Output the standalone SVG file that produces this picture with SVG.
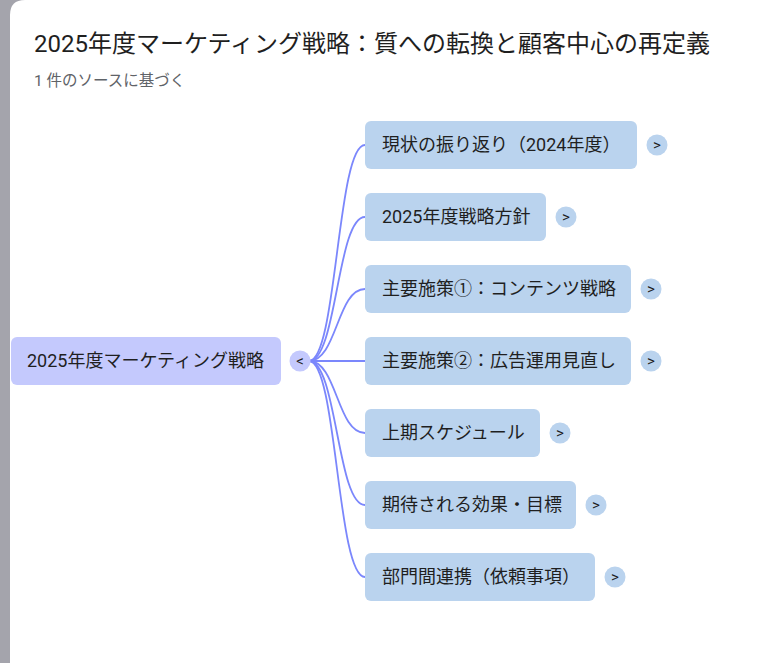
<svg xmlns="http://www.w3.org/2000/svg" width="772" height="663" viewBox="0 0 772 663">
<style>
text{font-family:Roboto,"Noto Sans CJK JP",sans-serif;fill:#1f1f1f}
.title{font-size:24px}
.sub{font-size:15.5px;fill:#5f6368}
.lbl{font-size:18px}
.root rect.box{fill:#c4c9fd}
.child rect.box{fill:#bad3ee}
.tog{fill:#bad3ee}
.root .tog{fill:#c4c9fd}
.tg{font-size:15px;text-anchor:middle}
#connectors path{fill:none;stroke:#7b87fc;stroke-width:1.8}
</style>
<rect x="0" y="0" width="772" height="663" fill="#a4a4ac"/>
<path d="M10 663 V15 Q10 0 25 0 H772 V663 Z" fill="#ffffff"/>
<text class="title" x="34" y="52">2025年度マーケティング戦略：質への転換と顧客中心の再定義</text>
<text class="sub" x="34" y="86">1 件のソースに基づく</text>
<g id="connectors">
<path d="M309 361 C337 361 337 145 365 145"/>
<path d="M309 361 C337 361 337 217 365 217"/>
<path d="M309 361 C337 361 337 289 365 289"/>
<path d="M309 361 L365 361"/>
<path d="M309 361 C337 361 337 433 365 433"/>
<path d="M309 361 C337 361 337 505 365 505"/>
<path d="M309 361 C337 361 337 577 365 577"/>
</g>
<g id="root" class="root">
<rect class="box" x="11" y="337" width="270" height="48" rx="6"/>
<text class="lbl" x="27" y="367">2025年度マーケティング戦略</text>
<circle class="tog" cx="300" cy="361" r="10.5"/>
<text class="tg" x="300" y="366">&lt;</text>
</g>
<g id="n1" class="child">
<rect class="box" x="365" y="121" width="272" height="48" rx="6"/>
<text class="lbl" x="382" y="151">現状の振り返り（2024年度）</text>
<circle class="tog" cx="657" cy="145" r="10.5"/>
<text class="tg" x="657" y="150">&gt;</text>
</g>
<g id="n2" class="child">
<rect class="box" x="365" y="193" width="181" height="48" rx="6"/>
<text class="lbl" x="382" y="223">2025年度戦略方針</text>
<circle class="tog" cx="566" cy="217" r="10.5"/>
<text class="tg" x="566" y="222">&gt;</text>
</g>
<g id="n3" class="child">
<rect class="box" x="365" y="265" width="266" height="48" rx="6"/>
<text class="lbl" x="382" y="295">主要施策①：コンテンツ戦略</text>
<circle class="tog" cx="651" cy="289" r="10.5"/>
<text class="tg" x="651" y="294">&gt;</text>
</g>
<g id="n4" class="child">
<rect class="box" x="365" y="337" width="266" height="48" rx="6"/>
<text class="lbl" x="382" y="367">主要施策②：広告運用見直し</text>
<circle class="tog" cx="651" cy="361" r="10.5"/>
<text class="tg" x="651" y="366">&gt;</text>
</g>
<g id="n5" class="child">
<rect class="box" x="365" y="409" width="175" height="48" rx="6"/>
<text class="lbl" x="382" y="439">上期スケジュール</text>
<circle class="tog" cx="560" cy="433" r="10.5"/>
<text class="tg" x="560" y="438">&gt;</text>
</g>
<g id="n6" class="child">
<rect class="box" x="365" y="481" width="211" height="48" rx="6"/>
<text class="lbl" x="382" y="511">期待される効果・目標</text>
<circle class="tog" cx="596" cy="505" r="10.5"/>
<text class="tg" x="596" y="510">&gt;</text>
</g>
<g id="n7" class="child">
<rect class="box" x="365" y="553" width="230" height="48" rx="6"/>
<text class="lbl" x="382" y="583">部門間連携（依頼事項）</text>
<circle class="tog" cx="615" cy="577" r="10.5"/>
<text class="tg" x="615" y="582">&gt;</text>
</g>
</svg>
